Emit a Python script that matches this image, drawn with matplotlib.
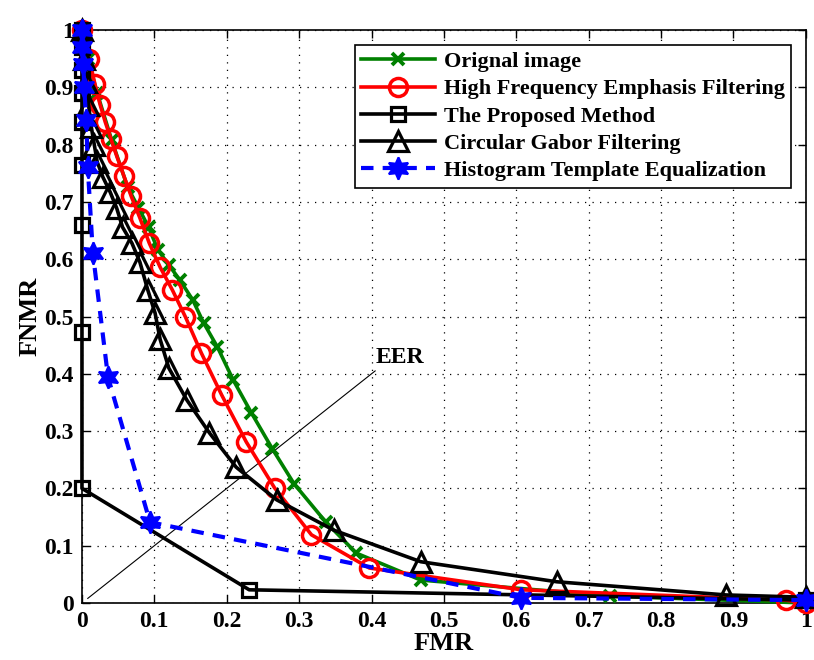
import matplotlib
matplotlib.use("Agg")
import matplotlib.pyplot as plt
from matplotlib.ticker import FixedLocator

# ---------------- data ----------------
orig_x = [0, 0.008, 0.021, 0.041, 0.063, 0.078, 0.092, 0.105, 0.12, 0.135, 0.153, 0.168, 0.187,
          0.209, 0.234, 0.263, 0.293, 0.337, 0.379, 0.468, 0.73, 1.0]
orig_y = [1.0, 0.95, 0.89, 0.808, 0.726, 0.69, 0.656, 0.616, 0.59, 0.564, 0.529, 0.489, 0.447,
          0.389, 0.332, 0.269, 0.208, 0.141, 0.087, 0.04, 0.012, 0.0]

hfe_x = [0, 0.01, 0.018, 0.025, 0.032, 0.04, 0.048, 0.058, 0.068, 0.08, 0.093, 0.108, 0.125,
         0.143, 0.165, 0.193, 0.227, 0.266, 0.317, 0.397, 0.607, 0.972, 1.0]
hfe_y = [1.0, 0.95, 0.905, 0.87, 0.84, 0.81, 0.78, 0.745, 0.71, 0.672, 0.628, 0.586, 0.546,
         0.499, 0.436, 0.363, 0.281, 0.201, 0.119, 0.061, 0.023, 0.005, 0.0]

prop_x = [0, 0, 0, 0, 0, 0, 0, 0, 0, 0.231, 1.0]
prop_y = [1.0, 0.97, 0.93, 0.89, 0.84, 0.765, 0.66, 0.473, 0.20, 0.023, 0.005]

gabor_x = [0, 0.003, 0.006, 0.009, 0.013, 0.017, 0.021, 0.029, 0.039, 0.048, 0.056, 0.069, 0.080,
           0.091, 0.101, 0.108, 0.12, 0.145, 0.176, 0.213, 0.269, 0.348, 0.468, 0.656, 0.89, 1.0]
gabor_y = [1.0, 0.95, 0.91, 0.87, 0.83, 0.8, 0.77, 0.743, 0.717, 0.689, 0.656, 0.628, 0.595,
           0.546, 0.506, 0.46, 0.41, 0.354, 0.297, 0.237, 0.180, 0.127, 0.072, 0.037, 0.014, 0.01]

hist_x = [0, 0, 0.002, 0.003, 0.006, 0.008, 0.015, 0.036, 0.094, 0.607, 1.0]
hist_y = [1.0, 0.97, 0.94, 0.9, 0.843, 0.761, 0.611, 0.394, 0.141, 0.009, 0.005]

eer_x = [0.008, 0.405]
eer_y = [0.008, 0.405]

labels = ["Orignal image", "High Frequency Emphasis Filtering", "The Proposed Method",
          "Circular Gabor Filtering", "Histogram Template Equalization"]
ticks = [0, 0.1, 0.2, 0.3, 0.4, 0.5, 0.6, 0.7, 0.8, 0.9, 1]
tick_labels = ["0", "0.1", "0.2", "0.3", "0.4", "0.5", "0.6", "0.7", "0.8", "0.9", "1"]

# ---------------- plot ----------------
plt.rcParams['font.family'] = ['Liberation Serif', 'DejaVu Serif']
plt.rcParams['font.weight'] = 'bold'

fig = plt.figure(figsize=(8.14, 6.6), dpi=100)
ax = fig.add_axes([0.1007, 0.0864, 0.8893, 0.8681])

lw = 2.6
ms = 11
ax.plot(orig_x, orig_y, color='#008000', lw=lw, marker='x', ms=9, mew=2.8, label=labels[0], clip_on=False, zorder=3)
ax.plot(hfe_x, hfe_y, color='#ff0000', lw=lw, marker='o', ms=ms + 2, mfc='none', mew=2.5, label=labels[1], clip_on=False, zorder=4)
ax.plot(prop_x, prop_y, color='black', lw=lw, marker='s', ms=ms - 1, mfc='none', mew=2.3, label=labels[2], clip_on=False, zorder=5)
ax.plot(gabor_x, gabor_y, color='black', lw=lw, marker='^', ms=ms + 4, mfc='none', mew=2.3, label=labels[3], clip_on=False, zorder=5)
ax.plot(hist_x, hist_y, color='#0000ff', lw=lw + 0.4, ls=(0, (3, 2.2)), marker=(6, 1, 0), ms=ms + 5,
        mfc='#0000ff', mec='#0000ff', mew=1.5, label=labels[4], clip_on=False, zorder=6)

ax.plot(eer_x, eer_y, color='black', lw=0.8, zorder=2)
ax.text(0.405, 0.41, "EER", fontsize=17, fontweight='bold', ha='left', va='bottom')

ax.set_xlim(0, 1)
ax.set_ylim(0, 1)
ax.xaxis.set_major_locator(FixedLocator(ticks))
ax.yaxis.set_major_locator(FixedLocator(ticks))
ax.set_xticklabels(tick_labels)
ax.set_yticklabels(tick_labels)
ax.tick_params(direction='in', length=6, width=1, top=True, right=True, labelsize=17, pad=6)
for lab in ax.get_xticklabels() + ax.get_yticklabels():
    lab.set_fontweight('bold')
ax.grid(True, color='black', ls=(0, (1, 5)), lw=0.9)
for sp in ax.spines.values():
    sp.set_linewidth(1.2)

ax.set_xlabel("FMR", fontsize=19, fontweight='bold', labelpad=0)
ax.set_ylabel("FNMR", fontsize=19, fontweight='bold', labelpad=2)

leg = ax.legend(loc='upper right', bbox_to_anchor=(0.98, 0.974), fontsize=16, frameon=True,
                fancybox=False, edgecolor='black', framealpha=1, handlelength=3.3,
                labelspacing=0.3, borderpad=0.3, handletextpad=0.4, borderaxespad=0)
leg.get_frame().set_linewidth(1.2)
for t in leg.get_texts():
    t.set_fontweight('bold')

fig.savefig("out.png", dpi=100)
